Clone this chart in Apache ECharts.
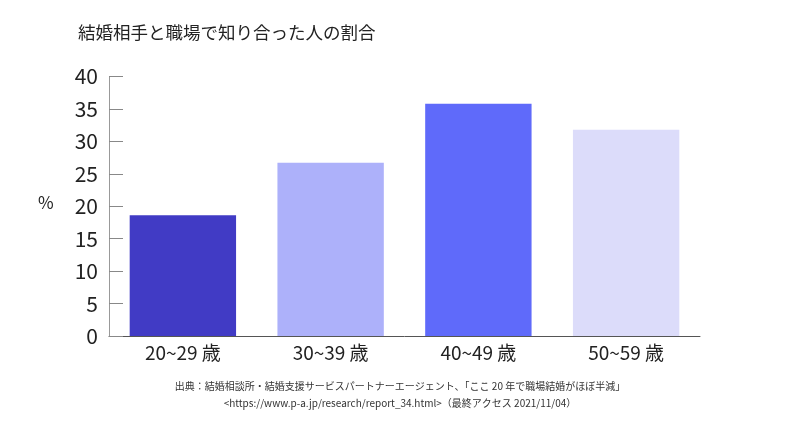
<!DOCTYPE html>
<html><head><meta charset="utf-8">
<script src="https://cdn.jsdelivr.net/npm/echarts@6/dist/echarts.min.js"></script>
<style>html,body{margin:0;padding:0;background:#fff}#c{width:800px;height:424px}</style>
</head><body><div id="c"></div>
<script>
const categories = ['20~29 歳', '30~39 歳', '40~49 歳', '50~59 歳'];
const values = [18.6, 26.7, 35.8, 31.8];
const barColors = ['#413bc5', '#adb1fa', '#5f6afa', '#dcdcfa'];
const yTicks = [0, 5, 10, 15, 20, 25, 30, 35, 40];
const titleText = '結婚相手と職場で知り合った人の割合';
const sourceLine1 = '出典：結婚相談所・結婚支援サービスパートナーエージェント、「ここ 20 年で職場結婚がほぼ半減」';
const sourceLine2 = '<https://www.p-a.jp/research/report_34.html>（最終アクセス 2021/11/04）';

const FONT = '"Noto Sans CJK JP", sans-serif';
const chart = echarts.init(document.getElementById('c'), null, {renderer: 'canvas'});
chart.setOption({
  animation: false,
  backgroundColor: '#fff',
  textStyle: {fontFamily: FONT},
  title: [
    {text: titleText, left: 73, top: 19, textStyle: {fontSize: 17.5, fontWeight: 'normal', color: '#222', fontFamily: FONT}}
  ],
  graphic: [
    {type: 'text', left: 38, top: 194, style: {text: '%', fontSize: 17, fill: '#222', fontFamily: FONT}},
    {type: 'text', x: 400, y: 386, style: {text: sourceLine1, fontSize: 10, fill: '#333', fontFamily: FONT, textAlign: 'center', textVerticalAlign: 'middle'}},
    {type: 'text', x: 400, y: 403, style: {text: sourceLine2, fontSize: 10, fill: '#333', fontFamily: '"Liberation Sans Narrow", "Noto Sans CJK JP", sans-serif', textAlign: 'center', textVerticalAlign: 'middle'}}
  ],
  grid: {left: 109, right: 100, top: 76.5, bottom: 88, containLabel: false},
  xAxis: {
    type: 'category', data: categories,
    axisLine: {lineStyle: {color: '#555', width: 1}},
    axisTick: {inside: true, length: 6, lineStyle: {color: '#555'}},
    axisLabel: {fontSize: 19, color: '#222', margin: 7, fontFamily: FONT}
  },
  yAxis: {
    type: 'value', min: yTicks[0], max: yTicks[yTicks.length - 1], interval: 5,
    axisLine: {show: true, lineStyle: {color: '#999', width: 1}},
    axisTick: {show: true, inside: true, length: 14, lineStyle: {color: '#888'}},
    splitLine: {show: false},
    axisLabel: {fontSize: 21, color: '#222', margin: 11, fontFamily: FONT}
  },
  series: [{
    type: 'bar', barWidth: '72%',
    data: values.map((v, i) => ({value: v, itemStyle: {color: barColors[i]}}))
  }]
});
</script></body></html>
